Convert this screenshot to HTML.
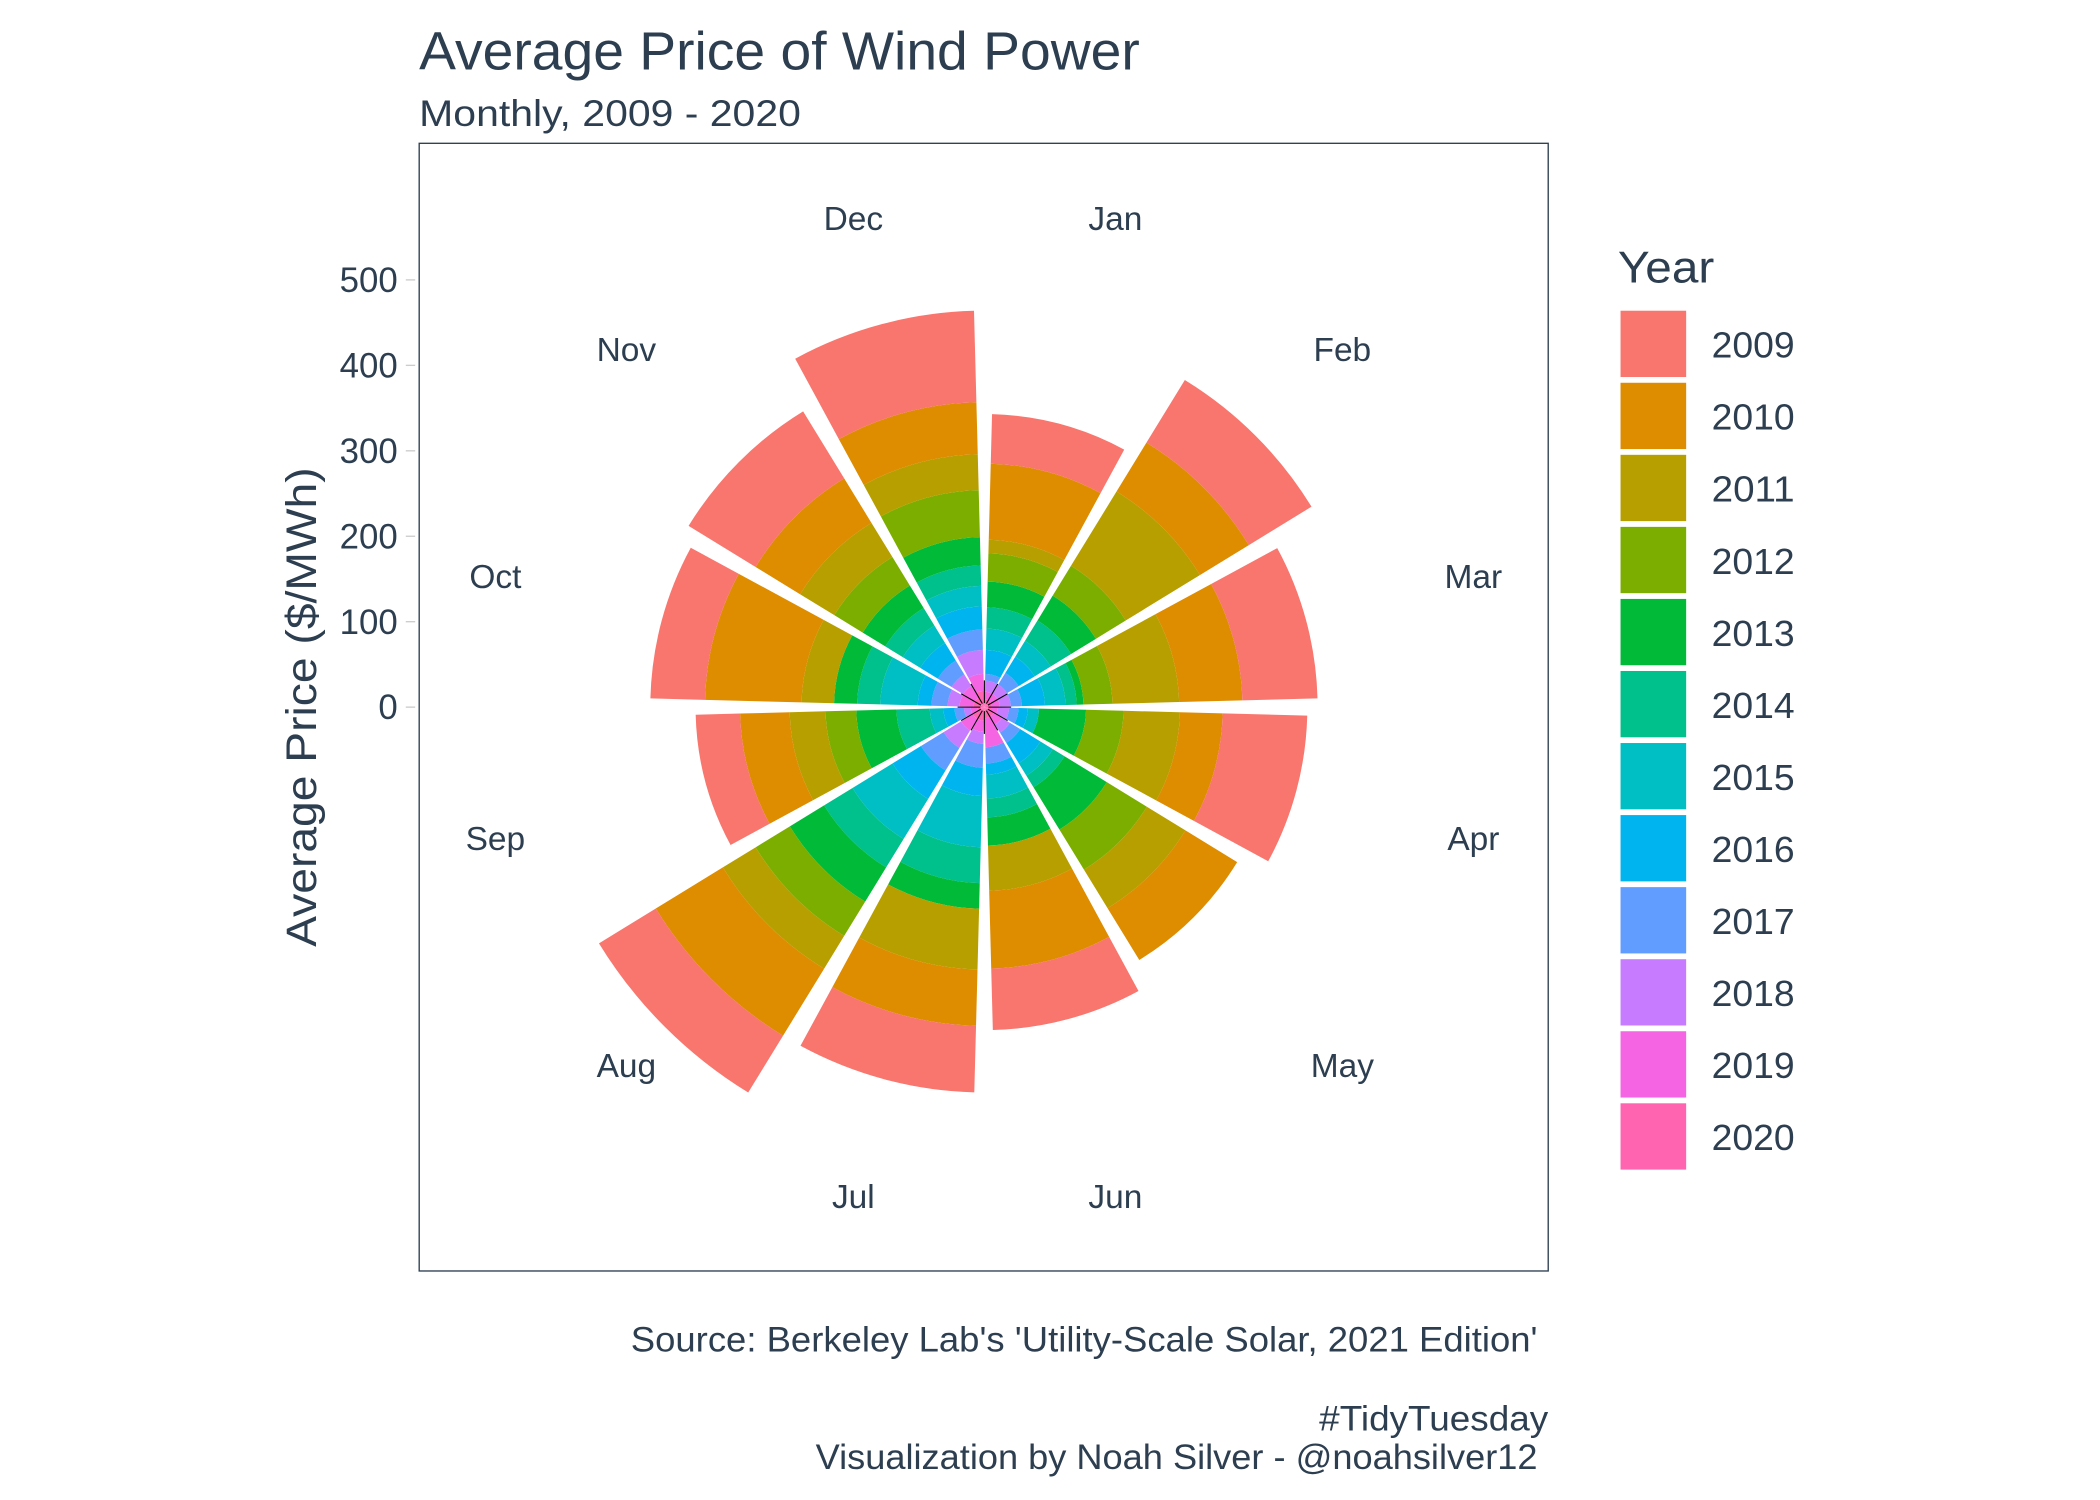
<!DOCTYPE html>
<html><head><meta charset="utf-8"><style>
html,body{margin:0;padding:0;background:#fff;}
svg{display:block;}
text{font-family:"Liberation Sans",sans-serif;fill:#2c3e50;}
</style></head>
<body>
<svg id="chart" width="2100" height="1500" viewBox="0 0 1568 1120" xmlns="http://www.w3.org/2000/svg">
<rect width="1568" height="1120" fill="#fff"/>
<text x="313" y="52" font-size="40" textLength="538" lengthAdjust="spacingAndGlyphs">Average Price of Wind Power</text>
<text x="313" y="94" font-size="28" textLength="285" lengthAdjust="spacingAndGlyphs">Monthly, 2009 - 2020</text>
<rect x="313" y="107" width="843" height="842" fill="none" stroke="#2c3e50" stroke-width="1"/>
<g id="ticks"></g>
<text transform="translate(236,528) rotate(-90)" text-anchor="middle" font-size="32" textLength="358" lengthAdjust="spacingAndGlyphs">Average Price ($/MWh)</text>
<g id="wedges"></g>
<g id="spokes"></g>
<g id="mlabels"></g>
<g id="legend">
<text x="1208" y="211" font-size="33" textLength="72" lengthAdjust="spacingAndGlyphs">Year</text>
</g>
<text x="1148" y="1009" font-size="26" text-anchor="end" textLength="677" lengthAdjust="spacingAndGlyphs">Source: Berkeley Lab's 'Utility-Scale Solar, 2021 Edition'</text>
<text x="1156" y="1068" font-size="26" text-anchor="end" textLength="171" lengthAdjust="spacingAndGlyphs">#TidyTuesday</text>
<text x="1148" y="1097" font-size="26" text-anchor="end" textLength="539" lengthAdjust="spacingAndGlyphs">Visualization by Noah Silver - @noahsilver12</text>
</svg>
<script>
const months = ["Jan","Feb","Mar","Apr","May","Jun","Jul","Aug","Sep","Oct","Nov","Dec"];
const years = ["2009","2010","2011","2012","2013","2014","2015","2016","2017","2018","2019","2020"];
const y2009 = [58,86,88,99,0,72,78,78,52,64,92,107];
const y2010 = [89,67,74,50,71,91,66,92,58,113,61,61];
const y2011 = [16,102,78,66,53,53,71,45,42,38,47,42];
const y2012 = [33,41,34,44,55,0,0,47,36,0,39,55];
const y2013 = [30,34,8,55,58,33,30,47,47,27,31,33];
const y2014 = [25,28,13,0,16,22,42,39,39,27,24,24];
const y2015 = [25,22,24,13,17,28,60,55,16,44,24,24];
const y2016 = [28,22,27,11,28,13,33,39,13,16,24,27];
const y2017 = [8,16,13,11,14,19,28,31,11,19,19,24];
const y2018 = [13,13,13,13,11,0,14,24,8,14,16,28];
const y2019 = [9,9,9,8,11,34,13,16,8,16,16,20];
const y2020 = [9,9,9,8,13,13,16,16,8,13,13,19];
const yTicks = [0,100,200,300,400,500];
const colors = ["#F8766D","#DE8C00","#B79F00","#7CAE00","#00BA38","#00C08B","#00BFC4","#00B4F0","#619CFF","#C77CFF","#F564E3","#FF64B0"];
const series = [y2009,y2010,y2011,y2012,y2013,y2014,y2015,y2016,y2017,y2018,y2019,y2020];

const NS="http://www.w3.org/2000/svg";
const cx=735, cy=528, k=0.638;
const rScale = v => v*k;
const angScale = i => i*30;
function pt(r,a){const t=a*Math.PI/180;return [cx+r*Math.sin(t), cy-r*Math.cos(t)];}
function mk(tag,attrs,parent){const e=document.createElementNS(NS,tag);for(const a in attrs)e.setAttribute(a,attrs[a]);parent.appendChild(e);return e;}

const tg=document.getElementById('ticks');
yTicks.forEach(v=>{
  const y=cy-rScale(v);
  const l=mk('line',{x1:303,x2:310,y1:y,y2:y,stroke:'#cccccc','stroke-width':1},tg);
  
  
  const t=mk('text',{x:297,y:y+9,'text-anchor':'end','font-size':26},tg);
  t.textContent=v;
  
  
});

const wg=document.getElementById('wedges');
months.forEach((m,i)=>{
  const a0=angScale(i)+1.5, a1=angScale(i+1)-1.5;
  let cum=0;
  for(let y=years.length-1;y>=0;y--){
    const v=series[y][i];
    const r0=rScale(cum), r1=rScale(cum+v);
    cum+=v;
    if(v<=0) continue;
    const p1=pt(r1,a0),p2=pt(r1,a1),p3=pt(r0,a1),p4=pt(r0,a0);
    const d=`M${p4[0]},${p4[1]} L${p1[0]},${p1[1]} A${r1},${r1} 0 0 1 ${p2[0]},${p2[1]} L${p3[0]},${p3[1]} `+(r0>0?`A${r0},${r0} 0 0 0 ${p4[0]},${p4[1]}`:'')+' Z';
    const p=mk('path',{d:d,fill:colors[y]},wg);
    
    
  }
});

const sg=document.getElementById('spokes');
for(let i=0;i<12;i++){
  const a=angScale(i);
  const q0=pt(3,a), q1=pt(20,a);
  const l=mk('line',{x1:q0[0],y1:q0[1],x2:q1[0],y2:q1[1],stroke:'#000','stroke-width':0.8},sg);
  
  
}

const mg=document.getElementById('mlabels');
months.forEach((m,i)=>{
  const p=pt(378,angScale(i)+15);
  const t=mk('text',{x:p[0],y:p[1]+9,'text-anchor':'middle','font-size':25},mg);
  t.textContent=m;
  
  
});

const lg=document.getElementById('legend');
years.forEach((yr,j)=>{
  const y=232+j*53.8;
  const r=mk('rect',{x:1210,y:y,width:49,height:49.5,fill:colors[j]},lg);
  
  
  const t=mk('text',{x:1278,y:y+35,'font-size':27,textLength:62,lengthAdjust:'spacingAndGlyphs'},lg);
  t.textContent=yr;
  
  
});
</script>
</body></html>
